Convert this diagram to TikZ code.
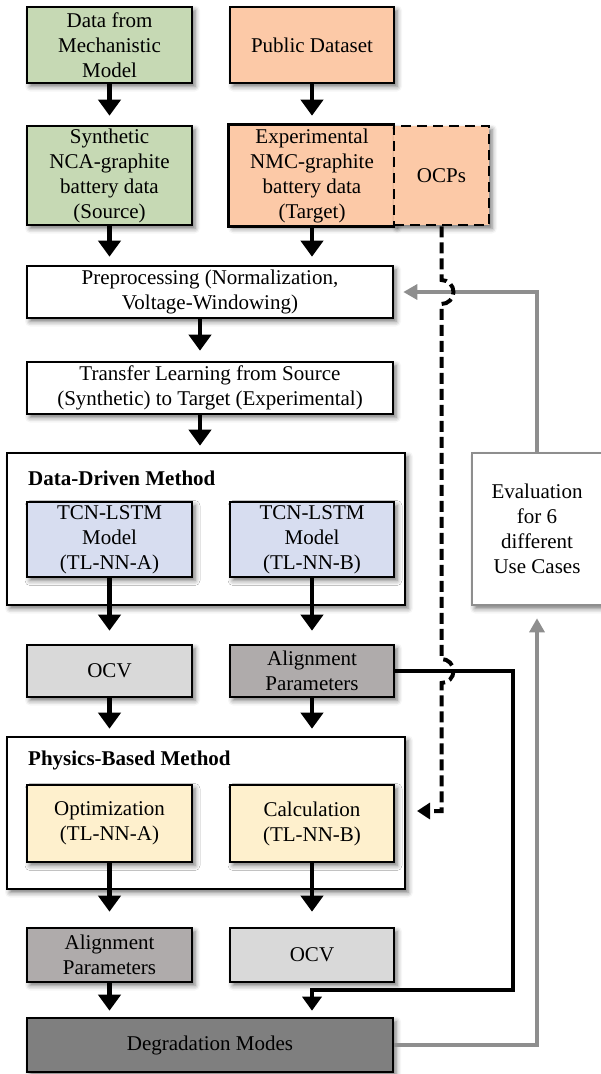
\documentclass[tikz,border=0pt]{standalone}
\usepackage{fontspec}
\setmainfont{Liberation Serif}
\usetikzlibrary{arrows.meta,shadows.blur}
\definecolor{cgreen}{HTML}{C6D9B4}
\definecolor{corange}{HTML}{FCC9A7}
\definecolor{cblue}{HTML}{D7DDF0}
\definecolor{cyellow}{HTML}{FEF0CD}
\definecolor{clight}{HTML}{D9D9D9}
\definecolor{cmid}{HTML}{AFABAB}
\definecolor{cdark}{HTML}{7F7F7F}
\definecolor{cgline}{HTML}{8E8E8E}
\newcommand\fsz{\fontsize{21}{25}\selectfont}
\begin{document}
\begin{tikzpicture}[x=1pt,y=1pt,font=\fsz,
  box/.style={draw=black,line width=2.6pt,align=center,inner sep=0pt,
    minimum width=165pt,
    blur shadow={shadow xshift=3pt,shadow yshift=-3.5pt,shadow blur radius=5pt,shadow opacity=55}},
  rbox/.style={box,minimum width=164pt},
  wide/.style={box,minimum width=366pt,minimum height=52pt,fill=white},
  outer/.style={box,minimum width=398pt,minimum height=152pt,fill=white},
  title/.style={anchor=west,font=\fsz\bfseries,inner sep=0pt},
  arr/.style={line width=4.5pt,-{Triangle[width=22pt,length=16pt]}},
  conn/.style={line width=3.5pt,-{Triangle[width=19pt,length=14pt]}},
  garr/.style={draw=cgline,line width=3.2pt,-{Triangle[width=15pt,length=14pt]}},
  darr/.style={line width=4pt,dash pattern=on 11pt off 5pt,-{Triangle[width=16pt,length=13pt]}}
]
\useasboundingbox (0,0) rectangle (600,-1074);

% top rows
\node[box,fill=cgreen,minimum height=76pt] (b1) at (109.5,-45) {Data from\\Mechanistic\\Model};
\node[rbox,fill=corange,minimum height=76pt] (b2) at (312,-45) {Public Dataset};
\node[box,fill=cgreen,minimum height=99pt] (b3) at (109.5,-175.5) {Synthetic\\NCA-graphite\\battery data\\(Source)};
\node[rbox,draw=none,fill=corange,minimum height=99pt] (b4) at (312,-175.5) {Experimental\\NMC-graphite\\battery data\\(Target)};
\node[box,fill=corange,minimum width=95pt,minimum height=99pt,dash pattern=on 10pt off 6pt] (ocps) at (441.5,-175.5) {OCPs};
\draw[line width=2.6pt] (b4.north east) -- (b4.north west) -- (b4.south west) -- (b4.south east);

\node[wide] (prep) at (210,-292) {Preprocessing (Normalization,\\Voltage-Windowing)};
\node[wide] (trans) at (210,-388) {Transfer Learning from Source\\(Synthetic) to Target (Experimental)};

% data-driven
\node[outer] (dd) at (206,-529) {};
\node[title] (ddt) at (28,-478) {Data-Driven Method};
\node[box,fill=cblue,minimum height=75pt] (tcnA) at (109.5,-539.5) {TCN-LSTM\\Model\\(TL-NN-A)};
\node[rbox,fill=cblue,minimum height=75pt] (tcnB) at (312,-539.5) {TCN-LSTM\\Model\\(TL-NN-B)};

\node[box,fill=clight,minimum height=52pt] (ocv1) at (109.5,-671) {OCV};
\node[rbox,fill=cmid,minimum height=52pt] (al1) at (312,-671) {Alignment\\Parameters};

% physics-based
\node[outer] (phys) at (206,-813) {};
\node[title] (pht) at (28,-760) {Physics-Based Method};
\node[box,fill=cyellow,minimum height=77pt] (opt) at (109.5,-823.5) {Optimization\\(TL-NN-A)};
\node[rbox,fill=cyellow,minimum height=77pt] (calc) at (312,-823.5) {Calculation\\(TL-NN-B)};

\node[box,fill=cmid,minimum height=54pt] (al2) at (109.5,-955) {Alignment\\Parameters};
\node[rbox,fill=clight,minimum height=54pt] (ocv2) at (312,-955) {OCV};

\node[wide,fill=cdark,minimum height=54pt] (deg) at (210,-1045) {Degradation Modes};

\node[box,draw=cgline,fill=white,minimum width=130pt,minimum height=152pt] (eval) at (537,-529) {Evaluation\\for 6\\different\\Use Cases};

% arrows
\draw[arr,shorten >=9pt] (b1) -- (b3);
\draw[arr,shorten >=9pt] (b2) -- (b4);
\draw[arr,shorten >=8pt] (b3.south) -- (b3.south |- prep.north);
\draw[arr,shorten >=8pt] (b4.south) -- (b4.south |- prep.north);
\draw[arr,shorten >=10pt] ([xshift=-10pt]prep.south) -- ([xshift=-10pt]trans.north);
\draw[arr,shorten >=6pt] ([xshift=-10pt]trans.south) -- ([xshift=-10pt]trans.south |- dd.north);
\draw[arr,shorten >=13pt] (tcnA) -- (ocv1);
\draw[arr,shorten >=13pt] (tcnB) -- (al1);
\draw[arr,shorten >=7pt] (ocv1.south) -- (ocv1.south |- phys.north);
\draw[arr,shorten >=7pt] (al1.south) -- (al1.south |- phys.north);
\draw[arr,shorten >=15pt] (opt) -- (al2);
\draw[arr,shorten >=15pt] (calc) -- (ocv2);
\draw[arr,shorten >=6pt] (al2) -- (deg.north -| al2.south);

\coordinate (j1) at (513,-990);
\draw[conn,shorten >=6pt] (al1.east) -| (j1) -- (ocv2.south |- j1) -- (ocv2.south |- deg.north);

\draw[garr,shorten >=9pt] (eval.north) |- (prep.east);
\draw[garr,shorten >=12pt] (deg.east) -| (eval.south);

\coordinate (dtip) at (417,-811);
\draw[darr] (ocps.south) -- (441.5,-280) arc[start angle=90,end angle=-90,radius=12]
  -- (441.5,-659) arc[start angle=90,end angle=-90,radius=12]
  -- (441.5,-811) -- (dtip);
\end{tikzpicture}
\end{document}
